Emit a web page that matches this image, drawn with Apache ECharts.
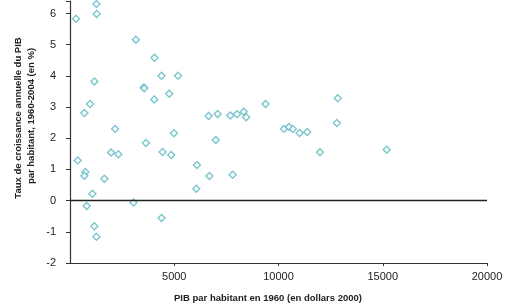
<!DOCTYPE html>
<html><head><meta charset="utf-8">
<script src="https://cdn.jsdelivr.net/npm/echarts@6/dist/echarts.min.js"></script>
<style>html,body{margin:0;padding:0;background:#fff}#c{width:510px;height:306px}</style>
</head><body><div id="c"></div>
<script>
// PIB par habitant en 1960 (dollars 2000)
var pib1960 = [288,1265,1280,3160,4055,1170,4390,5180,3540,3560,4760,4040,962,690,2165,4985,3640,6990,6650,7080,7690,8010,8330,8450,
  9375,12840,12800,10260,10500,10690,11010,11380,11990,15190,
  370,737,690,1650,1970,2320,4440,4855,6090,6685,7800,6060,1075,800,3045,4390,1170,1265];
// Taux de croissance annuelle 1960-2004 (%)
var croissance = [5.83,6.3,5.98,5.16,4.58,3.82,4.0,4.0,3.63,3.6,3.43,3.24,3.1,2.81,2.3,2.16,1.85,1.94,2.71,2.78,2.73,2.77,2.85,2.67,
  3.1,3.28,2.49,2.3,2.36,2.3,2.17,2.2,1.55,1.63,
  1.29,0.92,0.8,0.7,1.54,1.49,1.56,1.46,1.14,0.79,0.83,0.38,0.22,-0.17,-0.06,-0.56,-0.82,-1.16];
var xTicks = [0,5000,10000,15000,20000];
var yTicks = [-2,-1,0,1,2,3,4,5,6];

var pts = pib1960.map(function(x,i){return [x, croissance[i]];});
var chart = echarts.init(document.getElementById('c'));
chart.setOption({
  animation:false,
  grid:{left:70,right:23,top:1,bottom:43},
  xAxis:{type:'value',min:0,max:20000,interval:5000,
    axisLine:{onZero:false,lineStyle:{color:'#333',width:1.2}},
    axisTick:{show:true,inside:false,length:3,lineStyle:{color:'#333'}},
    splitLine:{show:false},
    axisLabel:{showMinLabel:false,color:'#222',fontSize:11,fontFamily:'Liberation Sans, Arial',margin:8,
      formatter:function(v){return xTicks.indexOf(v)>=0?String(v):'';}}},
  yAxis:{type:'value',min:-2,max:6.4,interval:1,
    axisLine:{show:true,lineStyle:{color:'#333',width:1.2}},
    axisTick:{show:true,length:4,lineStyle:{color:'#333'}},
    splitLine:{show:false},
    axisLabel:{color:'#222',fontSize:11,fontFamily:'Liberation Sans, Arial',margin:14,
      formatter:function(v){return yTicks.indexOf(v)>=0?String(v):'';}}},
  series:[{type:'scatter',data:pts,symbol:'diamond',symbolSize:7,
    itemStyle:{color:'#fff',borderColor:'#5ab8c2',borderWidth:1.4},
    markLine:{silent:true,symbol:'none',label:{show:false},
      lineStyle:{color:'#222',width:1.4,type:'solid'},data:[{yAxis:0}]}}],
  graphic:[
    {type:'text',left:null,x:18,y:118,rotation:Math.PI/2,
      style:{text:'Taux de croissance annuelle du PIB',fill:'#222',font:'bold 9.5px Liberation Sans, Arial',align:'center',verticalAlign:'middle'}},
    {type:'text',x:31,y:116,rotation:Math.PI/2,
      style:{text:'par habitant, 1960-2004 (en %)',fill:'#222',font:'bold 9.5px Liberation Sans, Arial',align:'center',verticalAlign:'middle'}},
    {type:'text',x:268,y:298,
      style:{text:'PIB par habitant en 1960 (en dollars 2000)',fill:'#222',font:'bold 9.5px Liberation Sans, Arial',align:'center',verticalAlign:'middle'}}
  ]
});
</script></body></html>
